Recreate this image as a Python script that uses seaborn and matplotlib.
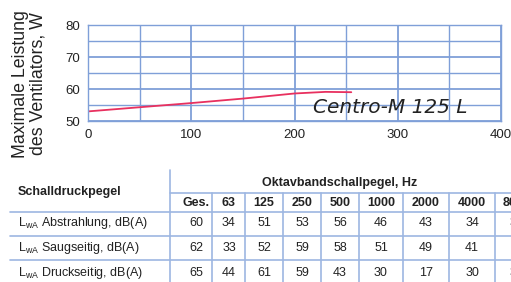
import numpy as np
import pandas as pd
import matplotlib
matplotlib.use("Agg")
import matplotlib.pyplot as plt
import seaborn as sns

# --- Daten ---
luftmenge = [0, 50, 100, 150, 200, 230, 255]
leistung = [53.0, 54.3, 55.6, 57.0, 58.6, 59.1, 59.0]

spalten = ["Ges.", "63", "125", "250", "500", "1000", "2000", "4000", "8000"]
zeilen = ["Abstrahlung, dB(A)", "Saugseitig, dB(A)", "Druckseitig, dB(A)"]
abstrahlung = [60, 34, 51, 53, 56, 46, 43, 34, 30]
saugseitig = [62, 33, 52, 59, 58, 51, 49, 41, 33]
druckseitig = [65, 44, 61, 59, 43, 30, 17, 30, 32]

sns.set_style("white")
plt.rcParams["font.family"] = ["Liberation Sans", "DejaVu Sans"]
plt.rcParams["mathtext.fontset"] = "custom"
plt.rcParams["mathtext.rm"] = "Liberation Sans"

GRID = "#7f9fd8"
TAB = "#9db6e2"
TXT = "#222222"

W, H = 511, 282
fig = plt.figure(figsize=(W / 100, H / 100), dpi=100)

# --- Diagramm ---
ax = fig.add_axes([88 / W, 1 - 121 / H, (501 - 88) / W, (121 - 25) / H])
df = pd.DataFrame({"x": luftmenge, "y": leistung})
sns.lineplot(data=df, x="x", y="y", ax=ax, color="#e8305f", linewidth=1.3)
ax.set_xlim(0, 400)
ax.set_ylim(50, 80)
ax.set_xticks([0, 100, 200, 300, 400])
ax.set_yticks([50, 60, 70, 80])
ax.set_xticks(np.arange(0, 401, 50), minor=True)
ax.set_yticks(np.arange(50, 81, 5), minor=True)
ax.grid(True, which="major", color=GRID, linewidth=1.3)
ax.grid(True, which="minor", color=GRID, linewidth=1.0)
ax.set_axisbelow(True)
for s in ax.spines.values():
    s.set_color(GRID)
    s.set_linewidth(1.0)
ax.tick_params(which="major", length=3, color=GRID, labelsize=9.5, pad=3,
               labelcolor=TXT)
ax.tick_params(which="minor", length=0)
ax.set_xlabel("")
ax.set_ylabel("")
ax.text(218, 54.1, "Centro-M 125 L", fontsize=14.5, style="italic",
        family="DejaVu Sans", color=TXT, va="center", ha="left")

fig.text(29 / W, 1 - 84 / H, "Maximale Leistung\ndes Ventilators, W",
         rotation=90, ha="center", va="center", fontsize=12.8,
         linespacing=1.05, color=TXT)

# --- Tabelle ---
tx = fig.add_axes([0, 0, 1, 1])
tx.set_xlim(0, W)
tx.set_ylim(H, 0)
tx.axis("off")

col_x = [196, 229, 264, 302, 340, 381, 426, 472, 517]
sep_x = [212, 245, 283, 321, 359, 403, 449, 495]
row_y = [223, 248, 273]
lines_y = [212, 236, 260]

tx.plot([170, 170], [170, H], color=TAB, lw=1.2)
tx.plot([170, W], [193, 193], color=TAB, lw=1.2)
for yl in lines_y:
    tx.plot([10, W], [yl, yl], color=TAB, lw=1.2)
for xs in sep_x:
    tx.plot([xs, xs], [193, H], color=TAB, lw=1.2)

FS = 9
tx.text(18, 192, "Schalldruckpegel", fontsize=FS, weight="bold",
        va="center", ha="left", color=TXT)
tx.text(340, 183, "Oktavbandschallpegel, Hz", fontsize=FS, weight="bold",
        va="center", ha="center", color=TXT)
for lab, xc in zip(spalten, col_x):
    tx.text(xc, 203, lab, fontsize=FS, weight="bold", va="center",
            ha="center", color=TXT)

for werte, name, yc in zip([abstrahlung, saugseitig, druckseitig], zeilen, row_y):
    tx.text(18, yc, r"L$_{\mathrm{wA}}$ " + name, fontsize=FS, va="center",
            ha="left", color=TXT)
    for v, xc in zip(werte, col_x):
        tx.text(xc, yc, str(v), fontsize=FS, va="center", ha="center",
                color=TXT)

fig.savefig("out.png", dpi=100)
